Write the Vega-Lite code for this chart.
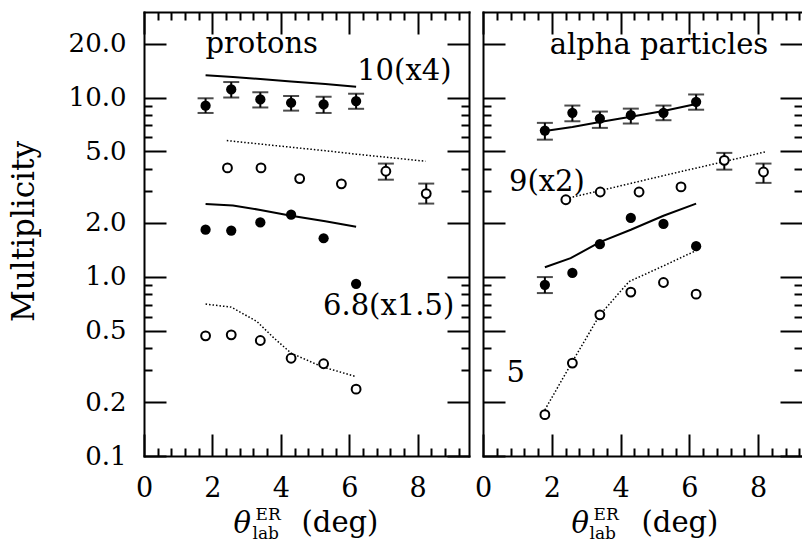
{
  "$schema": "https://vega.github.io/schema/vega-lite/v6.json",
  "background": "white",
  "padding": {"left": 8, "top": 11, "right": 0, "bottom": 0},
  "bounds": "flush",
  "spacing": 14,
  "config": {
    "view": {"stroke": null},
    "font": "DejaVu Serif",
    "axis": {
      "grid": false,
      "tickColor": "black",
      "tickWidth": 2,
      "domainColor": "black",
      "domainWidth": 2,
      "domainCap": "square",
      "labelColor": "black",
      "labelFont": "DejaVu Serif",
      "labelOverlap": false,
      "labelFlush": false,
      "titleColor": "black",
      "titleFont": "DejaVu Serif",
      "titleFontWeight": "normal"
    }
  },
  "datasets": {
    "points": [
      {"panel": "p", "kind": "filled", "x": 1.8, "y": 9.0, "lo": 8.2, "hi": 9.9},
      {"panel": "p", "kind": "filled", "x": 2.55, "y": 11.1, "lo": 10.0, "hi": 12.2},
      {"panel": "p", "kind": "filled", "x": 3.4, "y": 9.75, "lo": 8.8, "hi": 10.7},
      {"panel": "p", "kind": "filled", "x": 4.3, "y": 9.35, "lo": 8.45, "hi": 10.2},
      {"panel": "p", "kind": "filled", "x": 5.25, "y": 9.15, "lo": 8.2, "hi": 10.1},
      {"panel": "p", "kind": "filled", "x": 6.2, "y": 9.55, "lo": 8.65, "hi": 10.5},
      {"panel": "p", "kind": "filled", "x": 1.8, "y": 1.83},
      {"panel": "p", "kind": "filled", "x": 2.55, "y": 1.81},
      {"panel": "p", "kind": "filled", "x": 3.4, "y": 2.01},
      {"panel": "p", "kind": "filled", "x": 4.3, "y": 2.22},
      {"panel": "p", "kind": "filled", "x": 5.25, "y": 1.64},
      {"panel": "p", "kind": "filled", "x": 6.2, "y": 0.914},
      {"panel": "p", "kind": "open", "x": 2.44, "y": 4.05},
      {"panel": "p", "kind": "open", "x": 3.42, "y": 4.05},
      {"panel": "p", "kind": "open", "x": 4.55, "y": 3.53},
      {"panel": "p", "kind": "open", "x": 5.77, "y": 3.3},
      {"panel": "p", "kind": "open", "x": 7.07, "y": 3.88, "lo": 3.48, "hi": 4.28},
      {"panel": "p", "kind": "open", "x": 8.25, "y": 2.91, "lo": 2.56, "hi": 3.31},
      {"panel": "p", "kind": "open", "x": 1.8, "y": 0.468},
      {"panel": "p", "kind": "open", "x": 2.55, "y": 0.474},
      {"panel": "p", "kind": "open", "x": 3.4, "y": 0.441},
      {"panel": "p", "kind": "open", "x": 4.3, "y": 0.351},
      {"panel": "p", "kind": "open", "x": 5.25, "y": 0.327},
      {"panel": "p", "kind": "open", "x": 6.2, "y": 0.236},
      {"panel": "a", "kind": "filled", "x": 1.8, "y": 6.54, "lo": 5.82, "hi": 7.22},
      {"panel": "a", "kind": "filled", "x": 2.6, "y": 8.21, "lo": 7.37, "hi": 9.02},
      {"panel": "a", "kind": "filled", "x": 3.4, "y": 7.63, "lo": 6.77, "hi": 8.35},
      {"panel": "a", "kind": "filled", "x": 4.3, "y": 7.97, "lo": 7.16, "hi": 8.67},
      {"panel": "a", "kind": "filled", "x": 5.25, "y": 8.21, "lo": 7.47, "hi": 9.02},
      {"panel": "a", "kind": "filled", "x": 6.2, "y": 9.46, "lo": 8.55, "hi": 10.4},
      {"panel": "a", "kind": "filled", "x": 1.8, "y": 0.902, "lo": 0.811, "hi": 0.996},
      {"panel": "a", "kind": "filled", "x": 2.6, "y": 1.05},
      {"panel": "a", "kind": "filled", "x": 3.4, "y": 1.52},
      {"panel": "a", "kind": "filled", "x": 4.3, "y": 2.13},
      {"panel": "a", "kind": "filled", "x": 5.25, "y": 1.97},
      {"panel": "a", "kind": "filled", "x": 6.2, "y": 1.48},
      {"panel": "a", "kind": "open", "x": 2.41, "y": 2.69},
      {"panel": "a", "kind": "open", "x": 3.41, "y": 2.97},
      {"panel": "a", "kind": "open", "x": 4.54, "y": 2.97},
      {"panel": "a", "kind": "open", "x": 5.76, "y": 3.17},
      {"panel": "a", "kind": "open", "x": 7.02, "y": 4.46, "lo": 3.96, "hi": 4.91},
      {"panel": "a", "kind": "open", "x": 8.16, "y": 3.84, "lo": 3.34, "hi": 4.28},
      {"panel": "a", "kind": "open", "x": 1.8, "y": 0.17},
      {"panel": "a", "kind": "open", "x": 2.6, "y": 0.33},
      {"panel": "a", "kind": "open", "x": 3.4, "y": 0.613},
      {"panel": "a", "kind": "open", "x": 4.3, "y": 0.821},
      {"panel": "a", "kind": "open", "x": 5.25, "y": 0.929},
      {"panel": "a", "kind": "open", "x": 6.2, "y": 0.8}
    ],
    "curves": [
      {"panel": "p", "curve": "p10", "style": "solid", "x": 1.8, "y": 13.3},
      {"panel": "p", "curve": "p10", "style": "solid", "x": 2.6, "y": 13.0},
      {"panel": "p", "curve": "p10", "style": "solid", "x": 3.4, "y": 12.7},
      {"panel": "p", "curve": "p10", "style": "solid", "x": 4.3, "y": 12.3},
      {"panel": "p", "curve": "p10", "style": "solid", "x": 5.3, "y": 11.9},
      {"panel": "p", "curve": "p10", "style": "solid", "x": 6.2, "y": 11.5},
      {"panel": "p", "curve": "p10o", "style": "dotted", "x": 2.42, "y": 5.75},
      {"panel": "p", "curve": "p10o", "style": "dotted", "x": 3.4, "y": 5.5},
      {"panel": "p", "curve": "p10o", "style": "dotted", "x": 4.3, "y": 5.28},
      {"panel": "p", "curve": "p10o", "style": "dotted", "x": 5.3, "y": 5.05},
      {"panel": "p", "curve": "p10o", "style": "dotted", "x": 6.2, "y": 4.83},
      {"panel": "p", "curve": "p10o", "style": "dotted", "x": 7.1, "y": 4.64},
      {"panel": "p", "curve": "p10o", "style": "dotted", "x": 8.23, "y": 4.41},
      {"panel": "p", "curve": "p68", "style": "solid", "x": 1.8, "y": 2.55},
      {"panel": "p", "curve": "p68", "style": "solid", "x": 2.6, "y": 2.5},
      {"panel": "p", "curve": "p68", "style": "solid", "x": 3.4, "y": 2.36},
      {"panel": "p", "curve": "p68", "style": "solid", "x": 4.3, "y": 2.19},
      {"panel": "p", "curve": "p68", "style": "solid", "x": 5.3, "y": 2.04},
      {"panel": "p", "curve": "p68", "style": "solid", "x": 6.2, "y": 1.9},
      {"panel": "p", "curve": "p68o", "style": "dotted", "x": 1.8, "y": 0.704},
      {"panel": "p", "curve": "p68o", "style": "dotted", "x": 2.55, "y": 0.677},
      {"panel": "p", "curve": "p68o", "style": "dotted", "x": 3.3, "y": 0.563},
      {"panel": "p", "curve": "p68o", "style": "dotted", "x": 3.8, "y": 0.455},
      {"panel": "p", "curve": "p68o", "style": "dotted", "x": 4.3, "y": 0.375},
      {"panel": "p", "curve": "p68o", "style": "dotted", "x": 5.2, "y": 0.315},
      {"panel": "p", "curve": "p68o", "style": "dotted", "x": 6.2, "y": 0.277},
      {"panel": "a", "curve": "a9", "style": "solid", "x": 1.8, "y": 6.5},
      {"panel": "a", "curve": "a9", "style": "solid", "x": 2.6, "y": 6.85},
      {"panel": "a", "curve": "a9", "style": "solid", "x": 3.4, "y": 7.3},
      {"panel": "a", "curve": "a9", "style": "solid", "x": 4.3, "y": 7.8},
      {"panel": "a", "curve": "a9", "style": "solid", "x": 5.25, "y": 8.4},
      {"panel": "a", "curve": "a9", "style": "solid", "x": 6.2, "y": 9.2},
      {"panel": "a", "curve": "a9o", "style": "dotted", "x": 2.41, "y": 2.73},
      {"panel": "a", "curve": "a9o", "style": "dotted", "x": 3.4, "y": 3.02},
      {"panel": "a", "curve": "a9o", "style": "dotted", "x": 4.5, "y": 3.39},
      {"panel": "a", "curve": "a9o", "style": "dotted", "x": 5.8, "y": 3.88},
      {"panel": "a", "curve": "a9o", "style": "dotted", "x": 7.0, "y": 4.38},
      {"panel": "a", "curve": "a9o", "style": "dotted", "x": 8.2, "y": 4.97},
      {"panel": "a", "curve": "a5", "style": "solid", "x": 1.8, "y": 1.13},
      {"panel": "a", "curve": "a5", "style": "solid", "x": 2.55, "y": 1.27},
      {"panel": "a", "curve": "a5", "style": "solid", "x": 3.4, "y": 1.56},
      {"panel": "a", "curve": "a5", "style": "solid", "x": 4.3, "y": 1.83},
      {"panel": "a", "curve": "a5", "style": "solid", "x": 5.25, "y": 2.19},
      {"panel": "a", "curve": "a5", "style": "solid", "x": 6.2, "y": 2.56},
      {"panel": "a", "curve": "a5o", "style": "dotted", "x": 1.8, "y": 0.181},
      {"panel": "a", "curve": "a5o", "style": "dotted", "x": 2.6, "y": 0.336},
      {"panel": "a", "curve": "a5o", "style": "dotted", "x": 3.4, "y": 0.613},
      {"panel": "a", "curve": "a5o", "style": "dotted", "x": 4.25, "y": 0.94},
      {"panel": "a", "curve": "a5o", "style": "dotted", "x": 5.25, "y": 1.15},
      {"panel": "a", "curve": "a5o", "style": "dotted", "x": 6.2, "y": 1.4}
    ],
    "notes": [
      {"panel": "p", "label": "protons", "x": 3.44, "y": 17.8},
      {"panel": "p", "label": "10(x4)", "x": 7.61, "y": 12.6},
      {"panel": "p", "label": "6.8(x1.5)", "x": 7.15, "y": 0.613},
      {"panel": "a", "label": "alpha particles", "x": 5.12, "y": 17.4},
      {"panel": "a", "label": "9(x2)", "x": 1.86, "y": 3.0},
      {"panel": "a", "label": "5", "x": 0.95, "y": 0.26}
    ]
  },
  "hconcat": [
    {
      "width": 325,
      "height": 444,
      "resolve": {"axis": {"x": "independent", "y": "independent"}},
      "layer": [
        {
          "data": {"name": "curves"},
          "transform": [{"filter": "datum.panel === 'p' && datum.style === 'solid'"}],
          "mark": {"type": "line", "color": "black", "strokeWidth": 2},
          "encoding": {
            "x": {"field": "x", "type": "quantitative", "scale": {"domain": [0, 9.5], "nice": false, "zero": false},
              "axis": {"orient": "bottom", "values": [0, 0.4, 0.8, 1.2, 1.6, 2, 2.4, 2.8, 3.2, 3.6, 4, 4.4, 4.8, 5.2, 5.6, 6, 6.4, 6.8, 7.2, 7.6, 8, 8.4, 8.8, 9.2],
                "tickSize": {"condition": {"test": "datum.value % 2 === 0", "value": -22}, "value": -8},
                "labelOverlap": false,
                "labelExpr": "datum.value % 2 === 0 ? '' + datum.value : ''",
                "labelFontSize": 27, "labelPadding": 41, "labelBaseline": "top",
                "title": "θ", "titleFontSize": 29, "titleFontStyle": "italic",
                "titleX": 89, "titleY": 76, "titleAlign": "left", "titleBaseline": "alphabetic"}},
            "y": {"field": "y", "type": "quantitative", "scale": {"type": "log", "domain": [0.1, 30], "nice": false},
              "axis": {"orient": "left", "values": [0.1, 0.2, 0.3, 0.4, 0.5, 0.6, 0.7, 0.8, 0.9, 1, 2, 3, 4, 5, 6, 7, 8, 9, 10, 20],
                "tickSize": {"condition": {"test": "indexof([0.1, 0.2, 0.5, 1, 2, 5, 10, 20], datum.value) >= 0", "value": -22}, "value": -8},
                "format": ".1f", "labelOverlap": false,
                "labelExpr": "indexof([0.1, 0.2, 0.5, 1, 2, 5, 10, 20], datum.value) >= 0 ? datum.label : ''",
                "labelFontSize": 26, "labelPadding": 40,
                "title": "Multiplicity", "titleFontSize": 31, "titleAngle": -90,
                "titleX": -111, "titleY": 219, "titleAlign": "center", "titleBaseline": "alphabetic"}},
            "detail": {"field": "curve"}
          }
        },
        {
          "data": {"name": "curves"},
          "transform": [{"filter": "datum.panel === 'p' && datum.style === 'dotted'"}],
          "mark": {"type": "line", "color": "black", "strokeWidth": 1.5, "strokeDash": [1.5, 2]},
          "encoding": {
            "x": {"field": "x", "type": "quantitative", "scale": {"domain": [0, 9.5], "nice": false, "zero": false},
              "axis": {"orient": "top", "values": [0, 0.4, 0.8, 1.2, 1.6, 2, 2.4, 2.8, 3.2, 3.6, 4, 4.4, 4.8, 5.2, 5.6, 6, 6.4, 6.8, 7.2, 7.6, 8, 8.4, 8.8, 9.2],
                "tickSize": {"condition": {"test": "datum.value % 2 === 0", "value": -22}, "value": -8},
                "labels": false, "title": null}},
            "y": {"field": "y", "type": "quantitative", "scale": {"type": "log", "domain": [0.1, 30], "nice": false},
              "axis": {"orient": "right", "values": [0.1, 0.2, 0.3, 0.4, 0.5, 0.6, 0.7, 0.8, 0.9, 1, 2, 3, 4, 5, 6, 7, 8, 9, 10, 20],
                "tickSize": {"condition": {"test": "indexof([0.1, 0.2, 0.5, 1, 2, 5, 10, 20], datum.value) >= 0", "value": -22}, "value": -8},
                "labels": false, "title": null}},
            "detail": {"field": "curve"}
          }
        },
        {
          "data": {"name": "points"},
          "transform": [{"filter": "datum.panel === 'p' && datum.lo != null"}],
          "mark": {"type": "rule", "color": "black", "strokeWidth": 2},
          "encoding": {
            "x": {"field": "x", "type": "quantitative",
              "axis": {"orient": "bottom", "ticks": false, "labels": false, "domain": false,
                "title": "ER", "titleFontSize": 17, "titleX": 111, "titleY": 63, "titleAlign": "left", "titleBaseline": "alphabetic"}},
            "y": {"field": "lo", "type": "quantitative", "axis": null},
            "y2": {"field": "hi"}
          }
        },
        {
          "data": {"name": "points"},
          "transform": [{"filter": "datum.panel === 'p' && datum.lo != null"}],
          "mark": {"type": "tick", "orient": "horizontal", "color": "black", "size": 16, "thickness": 2},
          "encoding": {
            "x": {"field": "x", "type": "quantitative",
              "axis": {"orient": "bottom", "ticks": false, "labels": false, "domain": false,
                "title": "lab", "titleFontSize": 17, "titleX": 108, "titleY": 82, "titleAlign": "left", "titleBaseline": "alphabetic"}},
            "y": {"field": "lo", "type": "quantitative", "axis": null}
          }
        },
        {
          "data": {"name": "points"},
          "transform": [{"filter": "datum.panel === 'p' && datum.lo != null"}],
          "mark": {"type": "tick", "orient": "horizontal", "color": "black", "size": 16, "thickness": 2},
          "encoding": {
            "x": {"field": "x", "type": "quantitative",
              "axis": {"orient": "bottom", "ticks": false, "labels": false, "domain": false,
                "title": "(deg)", "titleFontSize": 29, "titleX": 157, "titleY": 75, "titleAlign": "left", "titleBaseline": "alphabetic"}},
            "y": {"field": "hi", "type": "quantitative", "axis": null}
          }
        },
        {
          "data": {"name": "points"},
          "transform": [{"filter": "datum.panel === 'p' && datum.kind === 'filled'"}],
          "mark": {"type": "point", "shape": "circle", "filled": true, "color": "black", "size": 105, "opacity": 1},
          "encoding": {
            "x": {"field": "x", "type": "quantitative", "axis": null},
            "y": {"field": "y", "type": "quantitative", "axis": null}
          }
        },
        {
          "data": {"name": "points"},
          "transform": [{"filter": "datum.panel === 'p' && datum.kind === 'open'"}],
          "mark": {"type": "point", "shape": "circle", "filled": true, "fill": "white", "stroke": "black", "strokeWidth": 2, "size": 78, "opacity": 1},
          "encoding": {
            "x": {"field": "x", "type": "quantitative", "axis": null},
            "y": {"field": "y", "type": "quantitative", "axis": null}
          }
        },
        {
          "data": {"name": "notes"},
          "transform": [{"filter": "datum.panel === 'p'"}],
          "mark": {"type": "text", "align": "center", "baseline": "alphabetic", "font": "DejaVu Serif", "fontSize": 29, "color": "black"},
          "encoding": {
            "x": {"field": "x", "type": "quantitative", "axis": null},
            "y": {"field": "y", "type": "quantitative", "axis": null},
            "text": {"field": "label"}
          }
        }
      ]
    },
    {
      "width": 319,
      "height": 444,
      "resolve": {"axis": {"x": "independent", "y": "independent"}},
      "layer": [
        {
          "data": {"name": "curves"},
          "transform": [{"filter": "datum.panel === 'a' && datum.style === 'solid'"}],
          "mark": {"type": "line", "color": "black", "strokeWidth": 2},
          "encoding": {
            "x": {"field": "x", "type": "quantitative", "scale": {"domain": [0, 9.28], "nice": false, "zero": false},
              "axis": {"orient": "bottom", "values": [0, 0.4, 0.8, 1.2, 1.6, 2, 2.4, 2.8, 3.2, 3.6, 4, 4.4, 4.8, 5.2, 5.6, 6, 6.4, 6.8, 7.2, 7.6, 8, 8.4, 8.8, 9.2],
                "tickSize": {"condition": {"test": "datum.value % 2 === 0", "value": -22}, "value": -8},
                "labelOverlap": false,
                "labelExpr": "datum.value % 2 === 0 ? '' + datum.value : ''",
                "labelFontSize": 27, "labelPadding": 41, "labelBaseline": "top",
                "title": "θ", "titleFontSize": 29, "titleFontStyle": "italic",
                "titleX": 88, "titleY": 76, "titleAlign": "left", "titleBaseline": "alphabetic"}},
            "y": {"field": "y", "type": "quantitative", "scale": {"type": "log", "domain": [0.1, 30], "nice": false},
              "axis": {"orient": "left", "values": [0.1, 0.2, 0.3, 0.4, 0.5, 0.6, 0.7, 0.8, 0.9, 1, 2, 3, 4, 5, 6, 7, 8, 9, 10, 20],
                "tickSize": {"condition": {"test": "indexof([0.1, 0.2, 0.5, 1, 2, 5, 10, 20], datum.value) >= 0", "value": -22}, "value": -8},
                "labels": false, "title": null}},
            "detail": {"field": "curve"}
          }
        },
        {
          "data": {"name": "curves"},
          "transform": [{"filter": "datum.panel === 'a' && datum.style === 'dotted'"}],
          "mark": {"type": "line", "color": "black", "strokeWidth": 1.5, "strokeDash": [1.5, 2]},
          "encoding": {
            "x": {"field": "x", "type": "quantitative", "scale": {"domain": [0, 9.28], "nice": false, "zero": false},
              "axis": {"orient": "top", "values": [0, 0.4, 0.8, 1.2, 1.6, 2, 2.4, 2.8, 3.2, 3.6, 4, 4.4, 4.8, 5.2, 5.6, 6, 6.4, 6.8, 7.2, 7.6, 8, 8.4, 8.8, 9.2],
                "tickSize": {"condition": {"test": "datum.value % 2 === 0", "value": -22}, "value": -8},
                "labels": false, "title": null}},
            "y": {"field": "y", "type": "quantitative", "scale": {"type": "log", "domain": [0.1, 30], "nice": false},
              "axis": {"orient": "right", "values": [0.1, 0.2, 0.3, 0.4, 0.5, 0.6, 0.7, 0.8, 0.9, 1, 2, 3, 4, 5, 6, 7, 8, 9, 10, 20],
                "tickSize": {"condition": {"test": "indexof([0.1, 0.2, 0.5, 1, 2, 5, 10, 20], datum.value) >= 0", "value": -22}, "value": -8},
                "labels": false, "domain": false, "title": null}},
            "detail": {"field": "curve"}
          }
        },
        {
          "data": {"name": "points"},
          "transform": [{"filter": "datum.panel === 'a' && datum.lo != null"}],
          "mark": {"type": "rule", "color": "black", "strokeWidth": 2},
          "encoding": {
            "x": {"field": "x", "type": "quantitative",
              "axis": {"orient": "bottom", "ticks": false, "labels": false, "domain": false,
                "title": "ER", "titleFontSize": 17, "titleX": 110, "titleY": 63, "titleAlign": "left", "titleBaseline": "alphabetic"}},
            "y": {"field": "lo", "type": "quantitative", "axis": null},
            "y2": {"field": "hi"}
          }
        },
        {
          "data": {"name": "points"},
          "transform": [{"filter": "datum.panel === 'a' && datum.lo != null"}],
          "mark": {"type": "tick", "orient": "horizontal", "color": "black", "size": 16, "thickness": 2},
          "encoding": {
            "x": {"field": "x", "type": "quantitative",
              "axis": {"orient": "bottom", "ticks": false, "labels": false, "domain": false,
                "title": "lab", "titleFontSize": 17, "titleX": 106, "titleY": 82, "titleAlign": "left", "titleBaseline": "alphabetic"}},
            "y": {"field": "lo", "type": "quantitative", "axis": null}
          }
        },
        {
          "data": {"name": "points"},
          "transform": [{"filter": "datum.panel === 'a' && datum.lo != null"}],
          "mark": {"type": "tick", "orient": "horizontal", "color": "black", "size": 16, "thickness": 2},
          "encoding": {
            "x": {"field": "x", "type": "quantitative",
              "axis": {"orient": "bottom", "ticks": false, "labels": false, "domain": false,
                "title": "(deg)", "titleFontSize": 29, "titleX": 158, "titleY": 75, "titleAlign": "left", "titleBaseline": "alphabetic"}},
            "y": {"field": "hi", "type": "quantitative", "axis": null}
          }
        },
        {
          "data": {"name": "points"},
          "transform": [{"filter": "datum.panel === 'a' && datum.kind === 'filled'"}],
          "mark": {"type": "point", "shape": "circle", "filled": true, "color": "black", "size": 105, "opacity": 1},
          "encoding": {
            "x": {"field": "x", "type": "quantitative", "axis": null},
            "y": {"field": "y", "type": "quantitative", "axis": null}
          }
        },
        {
          "data": {"name": "points"},
          "transform": [{"filter": "datum.panel === 'a' && datum.kind === 'open'"}],
          "mark": {"type": "point", "shape": "circle", "filled": true, "fill": "white", "stroke": "black", "strokeWidth": 2, "size": 78, "opacity": 1},
          "encoding": {
            "x": {"field": "x", "type": "quantitative", "axis": null},
            "y": {"field": "y", "type": "quantitative", "axis": null}
          }
        },
        {
          "data": {"name": "notes"},
          "transform": [{"filter": "datum.panel === 'a'"}],
          "mark": {"type": "text", "align": "center", "baseline": "alphabetic", "font": "DejaVu Serif", "fontSize": 29, "color": "black"},
          "encoding": {
            "x": {"field": "x", "type": "quantitative", "axis": null},
            "y": {"field": "y", "type": "quantitative", "axis": null},
            "text": {"field": "label"}
          }
        }
      ]
    }
  ]
}
